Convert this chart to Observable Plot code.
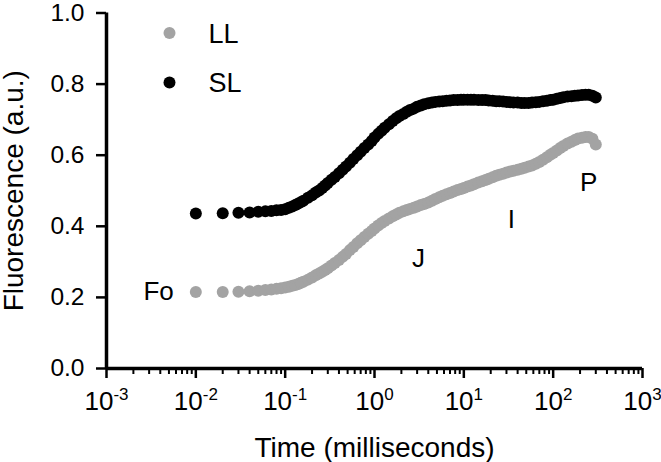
<!DOCTYPE html>
<html>
<head>
<meta charset="utf-8">
<script src="https://cdn.jsdelivr.net/npm/d3@7"></script>
<script src="https://cdn.jsdelivr.net/npm/@observablehq/plot@0.6"></script>
<style>
  html, body { margin: 0; padding: 0; background: #fff; }
</style>
</head>
<body>
<div id="chart"></div>
<script>
// ---- data ----
const seriesNames = ["LL", "SL"];
const seriesColors = ["#a3a3a3", "#000000"];

// time in milliseconds
const times = [0.01, 0.02, 0.03, 0.04, 0.05, 0.06, 0.07, 0.08, 0.09, 0.1,
  0.11, 0.12, 0.13, 0.14, 0.15, 0.16, 0.18, 0.2, 0.22, 0.24, 0.26, 0.28, 0.3,
  0.33, 0.36, 0.4, 0.44, 0.48, 0.53, 0.58, 0.64, 0.7, 0.77, 0.85, 0.93, 1.0,
  1.1, 1.2, 1.3, 1.45, 1.6, 1.75, 1.9, 2.1, 2.3, 2.5, 2.75, 3.0, 3.3, 3.6, 4.0,
  4.4, 4.8, 5.3, 5.8, 6.4, 7, 7.7, 8.5, 9.3, 10, 11, 12, 13, 14.5, 16, 17.5, 19,
  21, 23, 25, 27.5, 30, 33, 36, 40, 44, 48, 53, 58, 64, 70, 77, 85, 93, 100,
  110, 120, 130, 145, 160, 175, 190, 210, 230, 250, 275, 300];

const slValues = [0.436, 0.437, 0.438, 0.439, 0.441, 0.442, 0.443, 0.445, 0.446, 0.448,
  0.452, 0.456, 0.460, 0.464, 0.468, 0.472, 0.480, 0.487, 0.495, 0.501, 0.508, 0.515, 0.522,
  0.531, 0.539, 0.549, 0.559, 0.568, 0.579, 0.589, 0.600, 0.610, 0.620, 0.630, 0.640, 0.650,
  0.660, 0.669, 0.677, 0.687, 0.696, 0.704, 0.710, 0.716, 0.722, 0.727, 0.731, 0.736, 0.740, 0.743, 0.746,
  0.748, 0.750, 0.751, 0.752, 0.753, 0.754, 0.755, 0.755, 0.756, 0.756, 0.756, 0.756, 0.756, 0.755, 0.755, 0.755, 0.754,
  0.753, 0.752, 0.752, 0.751, 0.750, 0.749, 0.748, 0.748, 0.747, 0.747, 0.747, 0.748, 0.749, 0.750, 0.752, 0.753, 0.755, 0.756,
  0.759, 0.761, 0.763, 0.765, 0.766, 0.767, 0.768, 0.769, 0.770, 0.770, 0.767, 0.762];

const llValues = [0.215, 0.215, 0.216, 0.217, 0.219, 0.221, 0.222, 0.224, 0.226, 0.228,
  0.230, 0.233, 0.235, 0.238, 0.241, 0.244, 0.250, 0.256, 0.262, 0.267, 0.272, 0.277, 0.282,
  0.290, 0.297, 0.305, 0.314, 0.322, 0.333, 0.342, 0.352, 0.361, 0.370, 0.379, 0.387, 0.394,
  0.402, 0.409, 0.415, 0.422, 0.428, 0.433, 0.438, 0.442, 0.446, 0.449, 0.452, 0.456, 0.460, 0.463, 0.467,
  0.472, 0.477, 0.482, 0.486, 0.490, 0.494, 0.498, 0.502, 0.505, 0.508, 0.512, 0.515, 0.518, 0.523, 0.527, 0.530, 0.534,
  0.538, 0.542, 0.545, 0.548, 0.551, 0.554, 0.556, 0.559, 0.562, 0.565, 0.568, 0.571, 0.576, 0.581, 0.587, 0.594, 0.601, 0.606,
  0.613, 0.620, 0.626, 0.633, 0.638, 0.643, 0.647, 0.649, 0.651, 0.651, 0.646, 0.630];

// annotations (phase labels)
const annLabels = ["Fo", "J", "I", "P"];
const annTimes = [0.01, 3.1, 34, 250];
const annValues = [0.215, 0.31, 0.42, 0.524];

// axis ticks
const yTicks = [0, 0.2, 0.4, 0.6, 0.8, 1.0];
const xExponents = [-3, -2, -1, 0, 1, 2, 3];
const xMinorMultipliers = [2, 3, 4, 5, 6, 7, 8, 9];

// ---- build ----
const rows = [];
times.forEach((t, i) => {
  rows.push({t, v: llValues[i], s: "LL"});
  rows.push({t, v: slValues[i], s: "SL"});
});
const xMajor = xExponents.map(e => Math.pow(10, e));
const xMinor = xExponents.slice(0, -1).flatMap(e => xMinorMultipliers.map(m => m * Math.pow(10, e)));
const colorOf = Object.fromEntries(seriesNames.map((n, i) => [n, seriesColors[i]]));
const ann = annLabels.map((l, i) => ({l, t: annTimes[i], v: annValues[i]}));

const font = "'Liberation Sans', Arial, Helvetica, sans-serif";

const svg = Plot.plot({
  width: 661,
  height: 462,
  marginLeft: 106,
  marginRight: 19,
  marginTop: 12.5,
  marginBottom: 94,
  style: {fontFamily: font, fontSize: "24px", color: "#000", background: "#fff", overflow: "visible"},
  x: {type: "log", domain: [1e-3, 1e3]},
  y: {domain: [0, 1]},
  color: {domain: seriesNames, range: seriesColors},
  marks: [
    Plot.axisY({ticks: yTicks, tickSize: 10, tickPadding: 12, strokeWidth: 2.5,
      tickFormat: d => d.toFixed(1), label: null, fontSize: 24.5}),
    Plot.axisX({ticks: xMinor, tickSize: 6, strokeWidth: 2, text: null, label: null}),
    Plot.axisX({ticks: xMajor, tickSize: 10, tickPadding: 13, strokeWidth: 2.5,
      tickFormat: d => "10^" + Math.round(Math.log10(d)), label: null, fontSize: 26}),
    Plot.ruleX([1e-3], {strokeWidth: 3.5}),
    Plot.ruleY([0], {strokeWidth: 3.5}),
    Plot.dot(rows, {x: "t", y: "v", fill: "s", r: 6}),
    // legend
    ...seriesNames.map((n, i) => Plot.dot([n], {frameAnchor: "top-left", dx: 63, dy: 20 + i * 49.5, r: 6, fill: colorOf[n]})),
    ...seriesNames.map((n, i) => Plot.text([n], {frameAnchor: "top-left", text: d => d, dx: 102, dy: 21 + i * 49.5, textAnchor: "start", lineAnchor: "middle", fontSize: 27})),
    // phase labels
    Plot.text(ann.slice(0, 1), {x: "t", y: "v", text: "l", textAnchor: "end", dx: -22, fontSize: 26}),
    Plot.text(ann.slice(1), {x: "t", y: "v", text: "l", fontSize: 26}),
    // axis titles
    Plot.text(["Time (milliseconds)"], {frameAnchor: "bottom", dy: 80, textAnchor: "middle", lineAnchor: "middle", fontSize: 28}),
    Plot.text(["Fluorescence (a.u.)"], {frameAnchor: "left", rotate: -90, dx: -92, textAnchor: "middle", lineAnchor: "middle", fontSize: 28})
  ]
});

// render exponents as superscripts
d3.select(svg).selectAll("text").each(function() {
  const t = this.textContent;
  if (t.includes("^")) {
    const [b, e] = t.split("^");
    const s = d3.select(this);
    s.text(null);
    s.append("tspan").text(b);
    s.append("tspan").attr("dy", -10).attr("font-size", 17).text(e);
  }
});

document.getElementById("chart").appendChild(svg);
</script>
</body>
</html>
